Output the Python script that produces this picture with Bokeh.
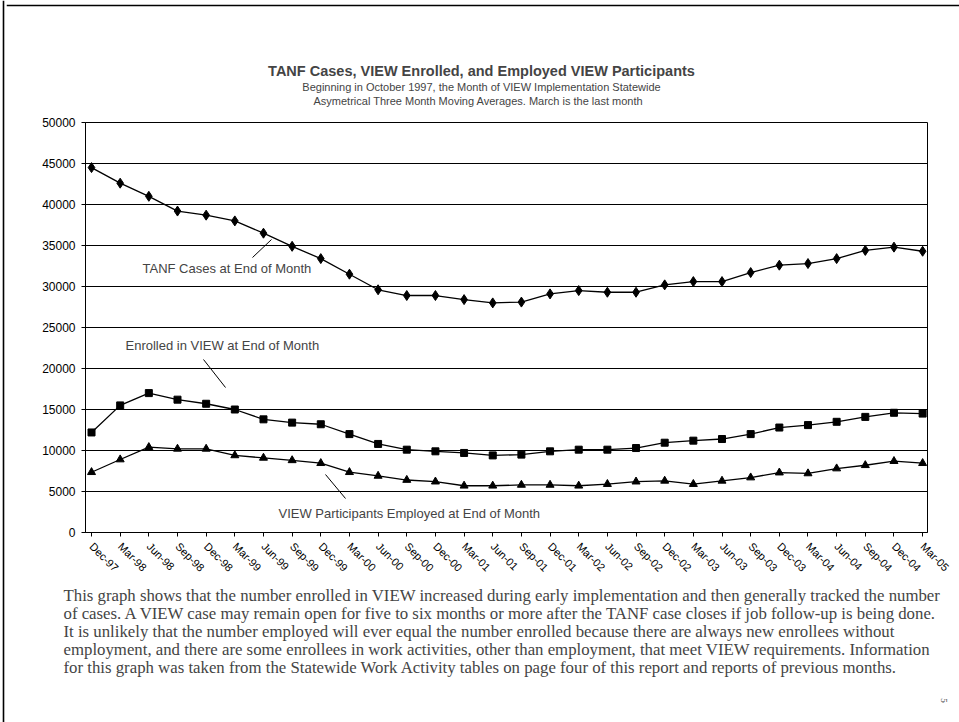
import math
from bokeh.plotting import figure
from bokeh.models import (FixedTicker, NumeralTickFormatter, Label, Arrow, Range1d, Span)
from bokeh.layouts import column, row
from bokeh.embed import file_html
from bokeh.resources import INLINE

# ---------------- data ----------------
months = ["Dec-97", "Mar-98", "Jun-98", "Sep-98", "Dec-98", "Mar-99", "Jun-99", "Sep-99",
          "Dec-99", "Mar-00", "Jun-00", "Sep-00", "Dec-00", "Mar-01", "Jun-01", "Sep-01",
          "Dec-01", "Mar-02", "Jun-02", "Sep-02", "Dec-02", "Mar-03", "Jun-03", "Sep-03",
          "Dec-03", "Mar-04", "Jun-04", "Sep-04", "Dec-04", "Mar-05"]
tanf_cases = [44500, 42600, 41000, 39200, 38700, 38000, 36500, 34900, 33400, 31500,
              29600, 28900, 28900, 28400, 28000, 28100, 29100, 29500, 29300, 29300,
              30200, 30600, 30600, 31700, 32600, 32800, 33400, 34400, 34800, 34300]
view_enrolled = [12200, 15500, 17000, 16200, 15700, 15000, 13800, 13400, 13200, 12000,
                 10800, 10100, 9900, 9700, 9400, 9500, 9900, 10100, 10100, 10300,
                 10950, 11200, 11400, 12000, 12800, 13100, 13500, 14100, 14600, 14500]
view_employed = [7350, 8900, 10400, 10200, 10200, 9400, 9100, 8800, 8450, 7350,
                 6900, 6400, 6200, 5700, 5700, 5800, 5800, 5700, 5900, 6200,
                 6300, 5900, 6300, 6700, 7300, 7200, 7800, 8200, 8700, 8450]
y_ticks = [0, 5000, 10000, 15000, 20000, 25000, 30000, 35000, 40000, 45000, 50000]

title_text = "TANF Cases, VIEW Enrolled, and Employed VIEW Participants"
subtitle1 = "Beginning in October 1997, the Month of VIEW Implementation Statewide"
subtitle2 = "Asymetrical Three Month Moving Averages.  March  is the last month"
label_tanf = "TANF Cases at End of Month"
label_enrolled = "Enrolled in VIEW at End of Month"
label_employed = "VIEW Participants Employed at End of Month"
paragraph = [
    "This graph shows that the number enrolled in VIEW increased during early implementation and then generally tracked the number",
    "of cases.   A VIEW case may remain open for five to six months or more after the TANF case closes if job follow-up is being done.",
    "It is unlikely that  the number employed will ever equal the number enrolled because there are always new enrollees without",
    "employment, and there are some enrollees in work activities, other than employment, that meet VIEW requirements.  Information",
    "for this graph was taken from the Statewide Work Activity tables on page four of this report and reports of previous months.",
]

# ---------------- layout (page pixels) ----------------
PW, PH = 959, 722
STRIP = 6                    # left strip holding the page border line
TOP_H = 110                  # title panel height
MAIN_BOTTOM = 585            # page y where the chart panel ends
FL, FR, FT, FB = 85, 927, 122, 532   # plot frame in page pixels
XS, XE = -0.21, 29.17
YS, YE = 0, 50000
PXU = (FR - FL) / (XE - XS)
PYU = (FB - FT) / (YE - YS)
FONT = "Liberation Sans"


def dx(X):
    return XS + (X - FL) / PXU


def dy(Y):
    return (FB - Y) / PYU


def no_align(f):
    try:
        f.frame_align = False
    except Exception:
        pass


def blank(w, h, xr, yr):
    f = figure(width=w, height=h, frame_width=w, frame_height=h,
               output_backend="svg", toolbar_location=None,
               x_range=xr, y_range=yr, x_axis_type=None, y_axis_type=None,
               min_border=0, min_border_left=0, min_border_right=0,
               min_border_top=0, min_border_bottom=0,
               background_fill_color="white", border_fill_color="white")
    f.title = None
    f.outline_line_color = None
    f.xgrid.visible = False
    f.ygrid.visible = False
    no_align(f)
    return f


# left strip with page border
strip = blank(STRIP, PH, Range1d(0, STRIP), Range1d(PH, 0))
strip.add_layout(Span(location=3, dimension="height", line_color="black", line_width=1.6))

# top panel: titles
top = blank(PW - STRIP, TOP_H, Range1d(STRIP, PW), Range1d(TOP_H, 0))
top.add_layout(Span(location=5, dimension="width", line_color="black", line_width=1.6))
top.add_layout(Label(x=481, y=70, text=title_text, text_font=FONT,
                     text_font_size="14.5px", text_font_style="bold",
                     text_align="center", text_baseline="middle"))
top.add_layout(Label(x=481, y=86, text=subtitle1, text_font=FONT,
                     text_font_size="11px", text_align="center", text_baseline="middle"))
top.add_layout(Label(x=481, y=100, text=subtitle2, text_font=FONT,
                     text_font_size="11px", text_align="center", text_baseline="middle"))

# main chart
p = figure(width=PW - STRIP, height=MAIN_BOTTOM - TOP_H, output_backend="svg",
           toolbar_location=None, x_range=Range1d(XS, XE), y_range=Range1d(YS, YE),
           min_border_left=FL - STRIP, min_border_right=PW - FR,
           min_border_top=FT - TOP_H, min_border_bottom=MAIN_BOTTOM - FB,
           background_fill_color="white", border_fill_color="white")
p.title = None
no_align(p)
p.outline_line_color = "black"
p.outline_line_width = 1

p.xgrid.visible = False
p.ygrid.ticker = FixedTicker(ticks=y_ticks)
p.ygrid.grid_line_color = "black"
p.ygrid.grid_line_width = 1

p.yaxis.ticker = FixedTicker(ticks=y_ticks)
p.yaxis.formatter = NumeralTickFormatter(format="0")
p.yaxis.major_label_text_font = FONT
p.yaxis.major_label_text_font_size = "12px"
p.yaxis.major_label_text_color = "black"
p.yaxis.major_label_standoff = 6
p.yaxis.major_tick_out = 4
p.yaxis.major_tick_in = 0
p.yaxis.minor_tick_line_color = None
p.yaxis.axis_line_color = "black"

xs = list(range(len(months)))
p.xaxis.ticker = FixedTicker(ticks=xs)
p.xaxis.major_label_overrides = {i: m for i, m in enumerate(months)}
p.xaxis.major_label_orientation = -math.pi / 4
p.xaxis.major_label_text_font = FONT
p.xaxis.major_label_text_font_size = "11px"
p.xaxis.major_label_text_color = "black"
p.xaxis.major_label_standoff = 8
p.xaxis.major_tick_out = 4
p.xaxis.major_tick_in = 0
p.xaxis.minor_tick_line_color = None
p.xaxis.axis_line_color = "black"

p.line(xs, tanf_cases, line_color="black", line_width=1.3)
p.scatter(xs, tanf_cases, marker="diamond", size=10, color="black")
p.line(xs, view_enrolled, line_color="black", line_width=1.3)
p.scatter(xs, view_enrolled, marker="square", size=7, color="black")
p.line(xs, view_employed, line_color="black", line_width=1.3)
p.scatter(xs, view_employed, marker="triangle", size=8, color="black")

for txt, X, Y in [(label_tanf, 142, 268), (label_enrolled, 125, 345), (label_employed, 278, 513)]:
    p.add_layout(Label(x=dx(X), y=dy(Y), text=txt, text_font=FONT, text_font_size="13px",
                       text_align="left", text_baseline="middle"))
for (X0, Y0, X1, Y1) in [(252, 257, 271, 239), (203, 359, 225, 387), (325, 474, 345, 498)]:
    p.add_layout(Arrow(end=None, x_start=dx(X0), y_start=dy(Y0), x_end=dx(X1), y_end=dy(Y1),
                       line_color="black", line_width=1))

# bottom panel: explanatory paragraph
bot = blank(PW - STRIP, PH - MAIN_BOTTOM, Range1d(STRIP, PW), Range1d(PH, MAIN_BOTTOM))
for i, line in enumerate(paragraph):
    bot.add_layout(Label(x=63, y=595 + 18 * i, text=line, text_font="Liberation Serif",
                         text_font_size="16.8px", text_align="left", text_baseline="middle"))
bot.add_layout(Label(x=943, y=700, text="5", text_font="Liberation Serif",
                     text_font_size="9px", angle=-math.pi / 2, text_align="center",
                     text_baseline="middle"))

layout = row(strip, column(top, p, bot, spacing=0), spacing=0)
open("out.html", "w").write(file_html(layout, INLINE))
